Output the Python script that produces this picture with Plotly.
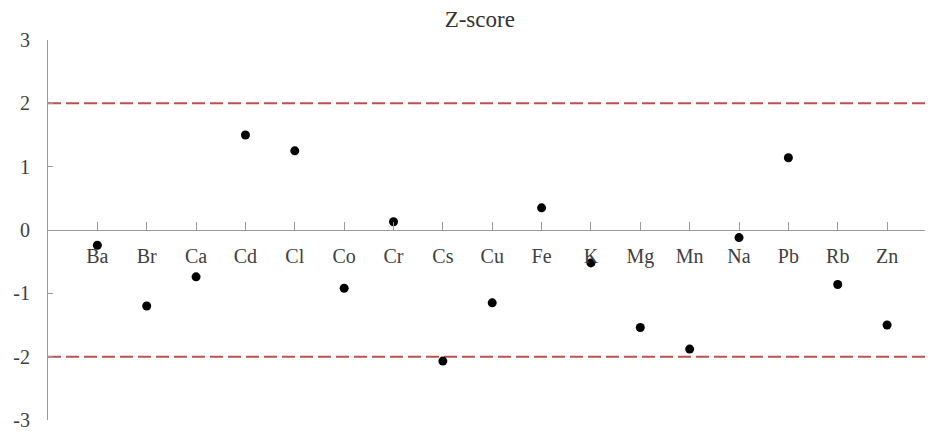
import plotly.graph_objects as go

elements = ["Ba", "Br", "Ca", "Cd", "Cl", "Co", "Cr", "Cs", "Cu", "Fe",
            "K", "Mg", "Mn", "Na", "Pb", "Rb", "Zn"]
z_scores = [-0.24, -1.20, -0.74, 1.50, 1.25, -0.92, 0.13, -2.07, -1.15, 0.35,
            -0.52, -1.54, -1.88, -0.12, 1.14, -0.86, -1.50]
thresholds = [2, -2]
y_ticks = [3, 2, 1, 0, -1, -2, -3]

x_pos = list(range(1, len(elements) + 1))
x_range = [0, 17.93]

fig = go.Figure()

for t in thresholds:
    fig.add_trace(go.Scatter(
        x=[0, 17.8], y=[t, t], mode="lines",
        line=dict(color="#c0504d", width=2, dash="13px,5px"),
        showlegend=False, hoverinfo="skip",
    ))

fig.add_trace(go.Scatter(
    x=x_pos, y=z_scores, mode="markers",
    marker=dict(color="black", size=9),
    showlegend=False, hoverinfo="skip",
))

# helper (empty) trace: the category axis x2 sits on the bottom of y2,
# whose domain starts at the y = 0 line of the main axis
fig.add_trace(go.Scatter(x=[], y=[], xaxis="x2", yaxis="y2",
                         showlegend=False, hoverinfo="skip"))

font_family = "Liberation Serif, Times New Roman, serif"
axis_gray = "#999999"

# the page body adds an 8px offset, so the figure is 8px smaller each way
fig.update_layout(
    width=925, height=428,
    margin=dict(l=40, r=0, t=31.5, b=16),
    paper_bgcolor="white", plot_bgcolor="rgba(0,0,0,0)",
    title=dict(text="Z-score", x=0.510, xanchor="center",
               y=1 - 11 / 428, yanchor="middle",
               font=dict(family=font_family, size=23, color="#333333")),
    font=dict(family=font_family, color="#404040"),
    xaxis=dict(range=x_range, visible=False, showgrid=False, zeroline=False,
               anchor="y"),
    xaxis2=dict(
        range=x_range, showgrid=False, zeroline=False,
        anchor="y2", automargin=False,
        showline=True, linecolor=axis_gray, linewidth=1,
        tickmode="array", tickvals=x_pos, ticktext=elements,
        ticks="inside", ticklen=8, tickcolor=axis_gray, tickwidth=1,
        tickfont=dict(size=20, color="#404040"),
        ticklabelstandoff=8,
    ),
    yaxis=dict(
        range=[-3, 3], showgrid=False, zeroline=False, automargin=False,
        anchor="x",
        showline=True, linecolor=axis_gray, linewidth=1,
        tickmode="array", tickvals=y_ticks, ticktext=[str(v) for v in y_ticks],
        ticks="inside", ticklen=5, tickcolor=axis_gray,
        tickfont=dict(size=20, color="#404040"),
        ticklabelstandoff=13,
    ),
    yaxis2=dict(domain=[0.5, 1], range=[0, 1], visible=False, anchor="x2"),
)

fig.write_html("out.html")
